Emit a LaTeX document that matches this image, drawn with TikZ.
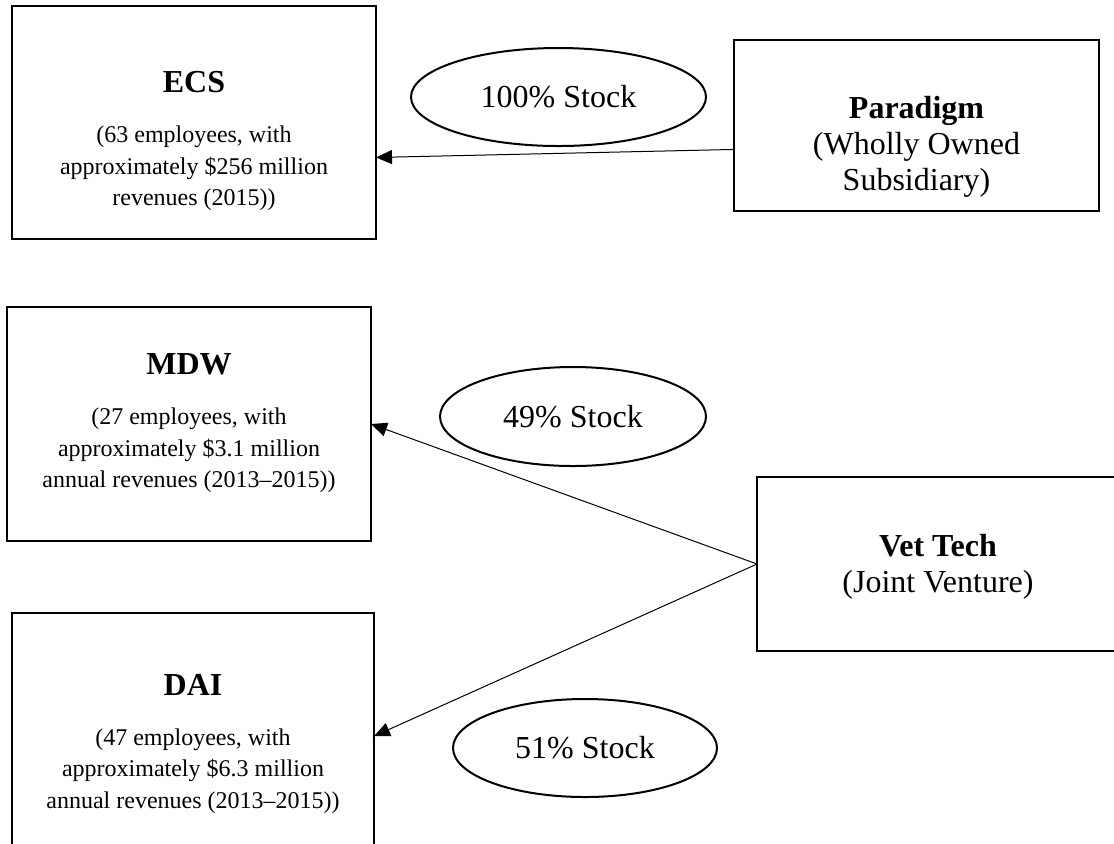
\documentclass[tikz,border=0pt]{standalone}
\usepackage{fontspec}
\setmainfont{Liberation Serif}
\usetikzlibrary{arrows.meta,calc,shapes.geometric}
\newcommand{\orghead}{\bfseries\fontsize{16}{18}\selectfont}
\tikzset{
    every picture/.style={line join=miter},
    orgbox/.style={draw=black,line width=1.4pt,inner sep=0pt,outer sep=0pt},
    orgtext/.style={align=center,inner sep=0pt,
      font=\fontsize{12}{15.75}\selectfont},
    ownertext/.style={align=center,inner sep=0pt,
      font=\fontsize{16}{18}\selectfont},
    stake/.style={draw=black,ellipse,line width=1pt,inner sep=0pt,
      font=\fontsize{16}{19}\selectfont},
    stockarrow/.style={-{Triangle[length=8pt,width=7pt]},draw=black,
      line width=0.5pt}
}

\begin{document}
\begin{tikzpicture}[x=0.5pt,y=-0.5pt]
  \useasboundingbox (0,0) rectangle (1114,843);
  \clip (0,0) rectangle (1114,843);
  % subsidiaries on the left
  \node[orgbox,minimum width=182pt,minimum height=116.5pt] (ecs) at (194,122.5) {};
  \node[orgtext] (ecstext) at (194,141) {{\orghead ECS}\\[9.25pt]
    (63 employees, with\\approximately \$256 million\\revenues (2015))};
  \node[orgbox,minimum width=182pt,minimum height=117pt] (mdw) at (189,424) {};
  \node[orgtext] (mdwtext) at (189,423.5) {{\orghead MDW}\\[9.25pt]
    (27 employees, with\\approximately \$3.1 million\\annual revenues (2013--2015))};
  \node[orgbox,minimum width=181pt,minimum height=131pt] (dai) at (193,744) {};
  \node[orgtext] (daitext) at (193,743.5) {{\orghead DAI}\\[9.25pt]
    (47 employees, with\\approximately \$6.3 million\\annual revenues (2013--2015))};
  % owners on the right
  \node[orgbox,minimum width=182.5pt,minimum height=85.5pt] (paradigm) at (916.5,125.5) {};
  \node[ownertext] (paradigmtext) at (916.5,146.5) {{\orghead Paradigm}\\
    (Wholly Owned\\Subsidiary)};
  \node[orgbox,minimum width=181pt,minimum height=87pt] (vettech) at (938,564) {};
  \node[ownertext] (vettechtext) at (938,567) {{\orghead Vet Tech}\\(Joint Venture)};
  % stock shares
  \node[stake,minimum width=147.5pt,minimum height=49pt] (stock100) at (558.5,97) {100\% Stock};
  \node[stake,minimum width=133pt,minimum height=49.5pt] (stock49) at (573,416.5) {49\% Stock};
  \node[stake,minimum width=132pt,minimum height=49pt] (stock51) at (585,748) {51\% Stock};
  \draw[stockarrow] ($(paradigm.south west)!.36!(paradigm.north west)$)
    -- ($(ecs.south east)!.35!(ecs.north east)$);
  \draw[stockarrow] (vettech.west) -- (mdw.east);
  \draw[stockarrow] (vettech.west) -- ($(dai.south east)!.53!(dai.north east)$);
\end{tikzpicture}
\end{document}
